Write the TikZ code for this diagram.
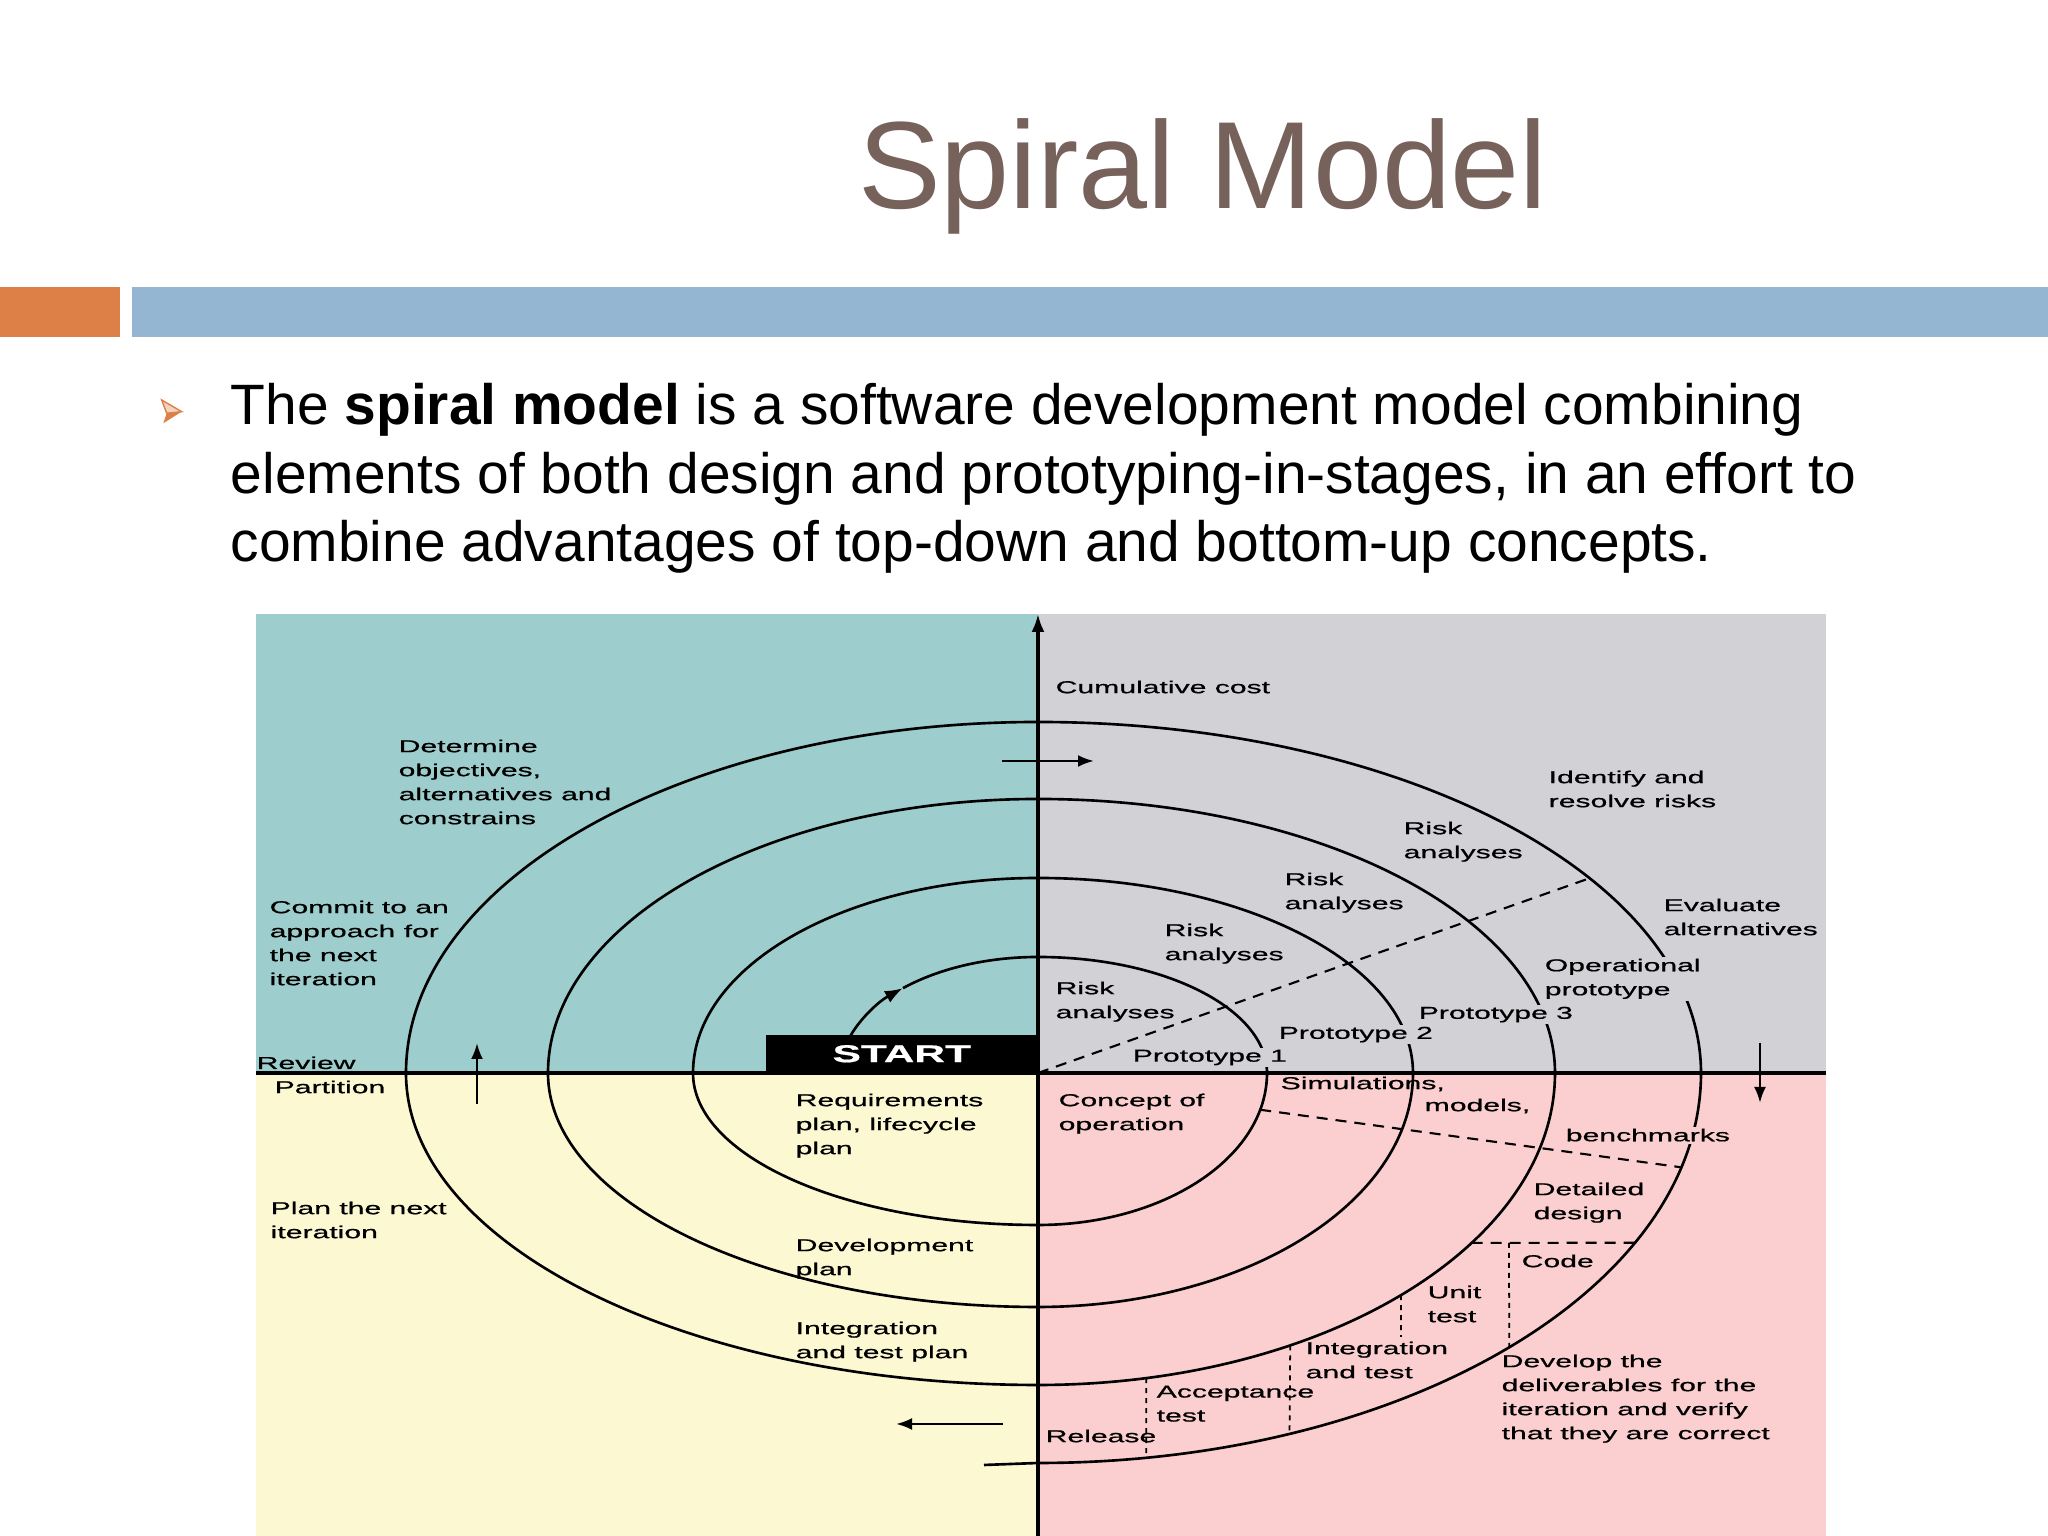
\documentclass[tikz,border=0pt]{standalone}
\usepackage{fontspec}
\setmainfont{Liberation Sans}
\newfontfamily\diagfont[FakeStretch=1.75,FakeBold=0.7]{Liberation Sans}
\usetikzlibrary{arrows.meta}

\begin{document}
\begin{tikzpicture}

    % Colors: slide theme and the four quadrants
    \definecolor{barOrange}{HTML}{DD8047}
    \definecolor{barBlue}{HTML}{94B6D2}
    \definecolor{titleBrown}{HTML}{76625B}
    \definecolor{colorUL}{HTML}{9DCDCC}
    \definecolor{colorUR}{HTML}{D2D1D6}
    \definecolor{colorLL}{HTML}{FCF8D2}
    \definecolor{colorLR}{HTML}{FBCFD0}

    % Page layout (1 unit = 1 cm, page = 20.48 x 15.36)
    \useasboundingbox (0,0) rectangle (20.48,15.36);
    \fill[white] (0,0) rectangle (20.48,15.36);

    % --- Title and header bars ---
    \node[anchor=base, inner sep=0, text=titleBrown,
          font=\fontsize{35.3}{42}\selectfont] (title) at (12.03,13.27) {Spiral Model};
    \fill[barOrange] (0,11.99) rectangle (1.20,12.49);
    \fill[barBlue] (1.32,11.99) rectangle (20.48,12.49);

    % --- Bullet text ---
    % bullet: outlined upper half, filled lower half
    \filldraw[fill=barOrange!35, draw=barOrange, line width=0.4pt]
        (1.617,11.36) -- (1.817,11.243) -- (1.667,11.227) -- cycle;
    \fill[barOrange] (1.667,11.227) -- (1.817,11.243) -- (1.633,11.127) -- cycle;
    \tikzset{bodytext/.style={anchor=base west, inner sep=0,
        font=\fontsize{16.2}{19.5}\selectfont}}
    \node[bodytext] (line1) at (2.30,11.115)
        {The \textbf{spiral model} is a software development model combining};
    \node[bodytext] (line2) at (2.30,10.423)
        {elements of both design and prototyping-in-stages, in an effort to};
    \node[bodytext] (line3) at (2.30,9.744)
        {combine advantages of top-down and bottom-up concepts.};

    % Styles for the spiral diagram
    \tikzset{
        spiral/.style={line width=0.75pt},
        axisline/.style={line width=0.9pt},
        flow/.style={line width=0.75pt, -{Latex[length=1.6mm,width=1.2mm]}},
        dashline/.style={line width=0.6pt, dash pattern=on 1.1mm off 0.8mm},
        dotline/.style={line width=0.5pt, dash pattern=on 0.5mm off 0.5mm},
        lbl/.style={anchor=north west, inner sep=0, align=left,
            font={\diagfont\fontsize{4.9}{6.83}\selectfont}},
        cutlbl/.style={lbl, fill=colorUR, inner sep=0.6pt},
        startbox/.style={fill=black, text=white, inner sep=0,
            minimum width=2.71cm, minimum height=0.37cm,
            font={\diagfont\bfseries\fontsize{6.9}{8}\selectfont}}
    }

    % Diagram origin = crossing of the two axes
    \begin{scope}[shift={(10.38,4.63)}]

    % --- Quadrant backgrounds ---
    \fill[colorUL] (-7.82,0) rectangle (0,4.59);
    \fill[colorUR] (0,0) rectangle (7.88,4.59);
    \fill[colorLL] (-7.82,-4.63) rectangle (0,0);
    \fill[colorLR] (0,-4.63) rectangle (7.88,0);

    % --- Axes ---
    \draw[axisline, -{Latex[length=1.8mm,width=1.3mm]}] (0,-4.63) -- (0,4.59);
    \draw[axisline] (-7.82,0) -- (7.88,0);

    % --- Spiral: quarter ellipses, clockwise from START ---
    \draw[spiral, -{Latex[length=1.8mm,width=1.3mm]}] (161.4:1.98 and 1.16)
        arc[start angle=161.4, end angle=133, x radius=1.98, y radius=1.16];
    \draw[spiral] (133:1.98 and 1.16)
        arc[start angle=133, end angle=90, x radius=1.98, y radius=1.16]
        arc[start angle=90, end angle=0, x radius=2.29, y radius=1.16]   % UR 1
        arc[start angle=0, end angle=-90, x radius=2.29, y radius=1.52]  % LR 1
        arc[start angle=270, end angle=180, x radius=3.45, y radius=1.52] % LL 1
        arc[start angle=180, end angle=90, x radius=3.45, y radius=1.95]  % UL 2
        arc[start angle=90, end angle=0, x radius=3.75, y radius=1.95]   % UR 2
        arc[start angle=0, end angle=-90, x radius=3.75, y radius=2.34]  % LR 2
        arc[start angle=270, end angle=180, x radius=4.90, y radius=2.34] % LL 2
        arc[start angle=180, end angle=90, x radius=4.90, y radius=2.74]  % UL 3
        arc[start angle=90, end angle=0, x radius=5.17, y radius=2.74]   % UR 3
        arc[start angle=0, end angle=-90, x radius=5.17, y radius=3.12]  % LR 3
        arc[start angle=270, end angle=180, x radius=6.32, y radius=3.12] % LL 3
        arc[start angle=180, end angle=90, x radius=6.32, y radius=3.51]  % UL 4
        arc[start angle=90, end angle=0, x radius=6.63, y radius=3.51]   % UR 4
        arc[start angle=0, end angle=-90, x radius=6.63, y radius=3.90]  % LR 4
        -- (-0.54,-3.92);

    % --- Dashed dividers ---
    \draw[dashline] (0,0) -- (33.7:6.63 and 3.51);
    \draw[dashline] (-14:2.29 and 1.52) -- (-14:6.63 and 3.90);
    \draw[dashline] (-33:5.17 and 3.12) -- (-25.8:6.63 and 3.90);
    \draw[dotline] (4.71,-1.70) -- (-44.7:6.63 and 3.90);
    \draw[dotline] (-45.4:5.17 and 3.12) -- (3.63,-2.64);
    \draw[dotline] (-60.8:5.17 and 3.12) -- (-67.7:6.63 and 3.90);
    \draw[dotline] (-77.9:5.17 and 3.12) -- (-80.6:6.63 and 3.90);

    % --- Direction arrows ---
    \draw[flow] (-0.36,3.12) -- (0.56,3.12);
    \draw[flow] (7.22,0.30) -- (7.22,-0.30);
    \draw[flow] (-0.35,-3.51) -- (-1.42,-3.51);
    \draw[flow] (-5.61,-0.31) -- (-5.61,0.30);

    % --- Upper left: objectives ---
    \node[startbox, anchor=south east] (start) at (0,0) {START};
    \node[lbl] (objectives) at (-6.40,3.34) {Determine\\objectives,\\alternatives and\\constrains};
    \node[lbl] (commit) at (-7.69,1.73) {Commit to an\\approach for\\the next\\iteration};
    \node[lbl, anchor=base west] (review) at (-7.82,0.04) {Review};

    % --- Lower left: planning ---
    \node[lbl] (partition) at (-7.64,-0.07) {Partition};
    \node[lbl] (plannext) at (-7.68,-1.28) {Plan the next\\iteration};
    \node[lbl] (reqplan) at (-2.43,-0.20) {Requirements\\plan, lifecycle\\plan};
    \node[lbl] (devplan) at (-2.43,-1.65) {Development\\plan};
    \node[lbl] (itplan) at (-2.43,-2.48) {Integration\\and test plan};

    % --- Upper right: risks ---
    \node[lbl] (cost) at (0.17,3.93) {Cumulative cost};
    \node[lbl] (identify) at (5.10,3.03) {Identify and\\resolve risks};
    \node[lbl] (risk4) at (3.65,2.52) {Risk\\analyses};
    \node[lbl] (risk3) at (2.46,2.01) {Risk\\analyses};
    \node[lbl] (risk2) at (1.26,1.50) {Risk\\analyses};
    \node[lbl] (risk1) at (0.17,0.92) {Risk\\analyses};
    \node[lbl] (evaluate) at (6.25,1.75) {Evaluate\\alternatives};
    \node[cutlbl] (opproto) at (5.04,1.17) {Operational\\prototype};
    \node[cutlbl] (proto3) at (3.78,0.69) {Prototype 3};
    \node[cutlbl] (proto2) at (2.38,0.49) {Prototype 2};
    \node[cutlbl] (proto1) at (0.92,0.26) {Prototype 1};

    % --- Lower right: development ---
    \node[lbl] (simul) at (2.42,-0.03) {Simulations,};
    \node[lbl] (models) at (3.86,-0.25) {models,};
    \node[cutlbl, fill=colorLR] (bench) at (5.25,-0.53) {benchmarks};
    \node[lbl] (concept) at (0.20,-0.20) {Concept of\\operation};
    \node[lbl] (detailed) at (4.95,-1.09) {Detailed\\design};
    \node[lbl] (code) at (4.83,-1.81) {Code};
    \node[lbl] (unittest) at (3.89,-2.12) {Unit\\test};
    \node[lbl] (inttest) at (2.67,-2.68) {Integration\\and test};
    \node[lbl] (accept) at (1.18,-3.12) {Acceptance\\test};
    \node[lbl] (release) at (0.07,-3.56) {Release};
    \node[lbl] (develop) at (4.63,-2.81) {Develop the\\deliverables for the\\iteration and verify\\that they are correct};

    \end{scope}

\end{tikzpicture}
\end{document}
